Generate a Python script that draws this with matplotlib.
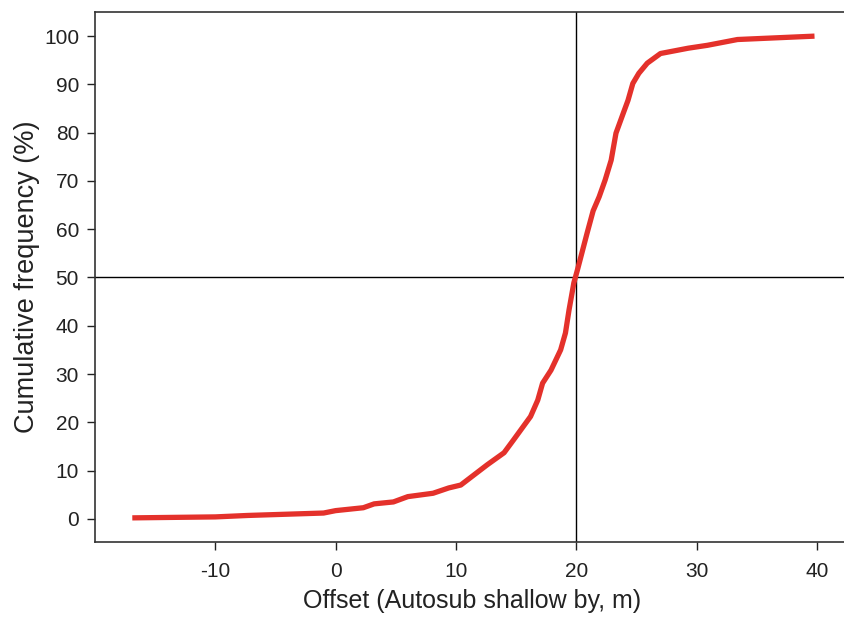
import matplotlib
matplotlib.use("Agg")
import matplotlib.pyplot as plt

offset = [-16.9, -10.0, -7.3, -1.0, 0.0, 2.3, 3.2, 4.8, 6.0, 8.1, 9.4, 10.4, 11.5,
          12.6, 14.0, 14.8, 16.2, 16.8, 17.2, 17.9, 18.7, 19.1, 19.4, 19.8, 20.1,
          20.9, 21.4, 21.9, 22.4, 22.9, 23.3, 23.9, 24.3, 24.7, 25.2, 25.9, 27.0,
          29.3, 30.9, 33.4, 39.8]
cum_freq = [0.2, 0.4, 0.7, 1.2, 1.7, 2.3, 3.1, 3.5, 4.6, 5.3, 6.4, 7.0, 9.1,
            11.2, 13.7, 16.4, 21.2, 24.6, 28.1, 30.8, 35.0, 38.5, 43.3, 48.9, 51.6,
            59.2, 63.8, 66.7, 70.2, 74.3, 79.9, 84.0, 86.7, 90.2, 92.3, 94.4, 96.4,
            97.5, 98.1, 99.3, 100.0]
x_ticks = [-10, 0, 10, 20, 30, 40]
x_ticklabels = ['-10', '0', '10', '20', '30', '40']
y_ticks = [0, 10, 20, 30, 40, 50, 60, 70, 80, 90, 100]
ref_x = 20
ref_y = 50

plt.rcParams['font.family'] = ['Liberation Sans', 'DejaVu Sans']

W, H = 845, 617
fig = plt.figure(figsize=(W / 100, H / 100), dpi=100)
ax = fig.add_axes([95 / W, (H - 542) / H, (850 - 95) / W, (542 - 12) / H])

ax.axvline(ref_x, color='black', lw=1.0, zorder=1)
ax.axhline(ref_y, color='black', lw=1.0, zorder=1)
ax.plot(offset, cum_freq, color='#e4312b', lw=3.8, solid_capstyle='butt',
        solid_joinstyle='round', zorder=3)

ax.set_xlim(-20, 42.75)
ax.set_ylim(-4.8, 105)
ax.set_xticks(x_ticks)
ax.set_xticklabels(x_ticklabels)
ax.set_yticks(y_ticks)
ax.tick_params(direction='out', length=5.5, width=1.0, labelsize=15, colors='#222222')
ax.tick_params(axis='y', pad=6)
ax.tick_params(axis='x', pad=9)
for s in ax.spines.values():
    s.set_color('#333333')
    s.set_linewidth(1.2)

ax.set_xlabel('Offset (Autosub shallow by, m)', fontsize=18, color='#222222', labelpad=6)
ax.set_ylabel('Cumulative frequency (%)', fontsize=19.5, color='#222222', labelpad=3)

fig.savefig('out.png', dpi=100)
